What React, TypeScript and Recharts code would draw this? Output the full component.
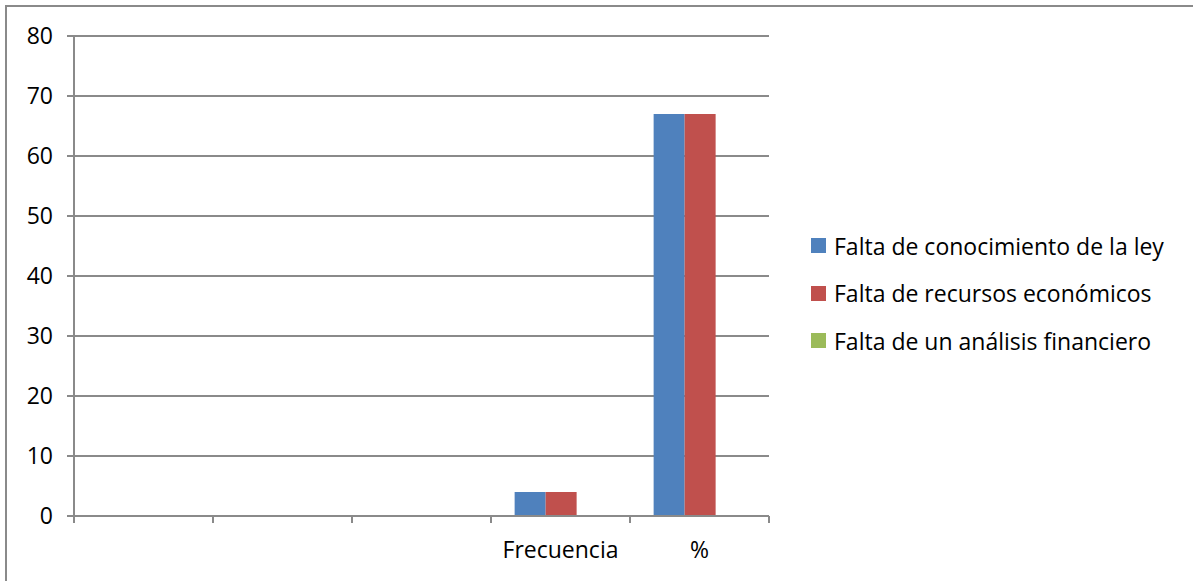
import { Bar, BarChart, CartesianGrid, XAxis, YAxis } from "recharts"

const categories = ["", "", "", "Frecuencia", "%"]
const conocimientoLey = [0, 0, 0, 4, 67]
const recursosEconomicos = [0, 0, 0, 4, 67]
const analisisFinanciero = [0, 0, 0, 0, 0]
const yTicks = [0, 10, 20, 30, 40, 50, 60, 70, 80]

const series = [
  { key: "ley", name: "Falta de conocimiento de la ley", color: "#4F81BD" },
  { key: "recursos", name: "Falta de recursos económicos", color: "#C0504D" },
  { key: "analisis", name: "Falta de un análisis financiero", color: "#9BBB59" },
]

const data = categories.map((name, i) => ({
  name,
  ley: conocimientoLey[i],
  recursos: recursosEconomicos[i],
  analisis: analisisFinanciero[i],
}))

const GRAY = "#8a8a8a"
const FONT = "'Open Sans', sans-serif"

// category tick: label under the band, tick marks on the band edges (Excel style)
function CategoryTick(props: any) {
  const { x, y, payload, index, visibleTicksCount, width } = props
  const half = payload?.offset ?? width / visibleTicksCount / 2
  const last = index === visibleTicksCount - 1
  return (
    <g>
      <line x1={x - half} x2={x - half} y1={y} y2={y + 7} stroke={GRAY} strokeWidth={2} />
      {last && <line x1={x + half} x2={x + half} y1={y} y2={y + 7} stroke={GRAY} strokeWidth={2} />}
      <text x={x} y={y + 26} dy="0.71em" textAnchor="middle" fill="#000" fontSize={23} fontFamily={FONT}>
        {payload.value}
      </text>
    </g>
  )
}

function LegendBox() {
  return (
    <div style={{ position: "absolute", left: 811, top: 222, fontFamily: FONT, fontSize: 23, color: "#000" }}>
      {series.map((s) => (
        <div key={s.key} style={{ display: "flex", alignItems: "center", height: 47.5 }}>
          <span style={{ width: 15, height: 15, background: s.color, marginRight: 8, flexShrink: 0 }} />
          <span style={{ whiteSpace: "nowrap" }}>{s.name}</span>
        </div>
      ))}
    </div>
  )
}

export default function App() {
  return (
    <div style={{ position: "fixed", left: 0, top: 0, width: 1193, height: 581, background: "#fff", overflow: "hidden" }}>
      <div
        style={{
          position: "absolute",
          left: 5,
          top: 5,
          width: 1300,
          height: 700,
          borderLeft: `2px solid ${GRAY}`,
          borderTop: `2px solid ${GRAY}`,
        }}
      />
      <BarChart
        width={1193}
        height={581}
        data={data}
        margin={{ top: 36, right: 424, bottom: 64, left: 0 }}
        barCategoryGap="17%"
        barGap={0}
        style={{ position: "absolute", left: 0, top: 0, fontFamily: FONT }}
      >
        <CartesianGrid vertical={false} stroke={GRAY} strokeWidth={2} />
        <YAxis
          domain={[0, 80]}
          ticks={yTicks}
          width={74}
          tickSize={7}
          tickMargin={14}
          stroke={GRAY}
          strokeWidth={2}
          tick={{ fill: "#000", fontSize: 23 }}
        />
        <XAxis
          dataKey="name"
          height={1}
          tickLine={false}
          tickSize={0}
          tickMargin={0}
          stroke={GRAY}
          strokeWidth={2}
          interval={0}
          tick={<CategoryTick />}
        />
        {series.map((s) => (
          <Bar key={s.key} dataKey={s.key} name={s.name} fill={s.color} isAnimationActive={false} />
        ))}
      </BarChart>
      <LegendBox />
    </div>
  )
}
